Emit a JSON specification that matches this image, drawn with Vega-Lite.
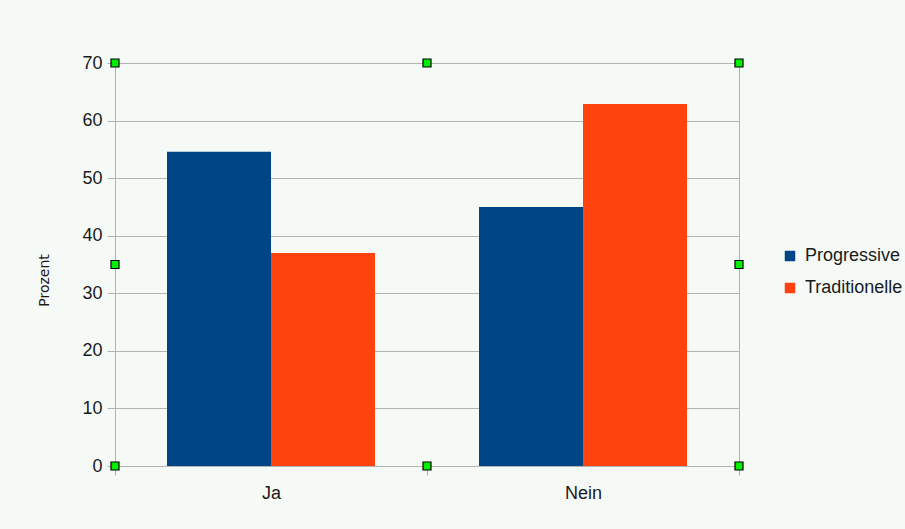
{
  "$schema": "https://vega.github.io/schema/vega-lite/v6.json",
  "width": 624,
  "height": 403,
  "autosize": "none",
  "padding": {"left": 115, "top": 63, "right": 166, "bottom": 63},
  "background": "#f5faf7",
  "config": {
    "view": {"stroke": "#b3b3b3", "strokeWidth": 1},
    "font": "Liberation Sans",
    "axis": {"labelFont": "Liberation Sans", "titleFont": "DejaVu Sans"},
    "legend": {"labelFont": "Liberation Sans"}
  },
  "datasets": {
    "bars": [
      {"Antwort": "Ja", "Gruppe": "Progressive", "Prozent": 54.6},
      {"Antwort": "Ja", "Gruppe": "Traditionelle", "Prozent": 37.0},
      {"Antwort": "Nein", "Gruppe": "Progressive", "Prozent": 45.0},
      {"Antwort": "Nein", "Gruppe": "Traditionelle", "Prozent": 62.9}
    ],
    "handles": [
      {"hx": 0, "hy": 70}, {"hx": 0.5, "hy": 70}, {"hx": 1, "hy": 70},
      {"hx": 0, "hy": 35}, {"hx": 1, "hy": 35},
      {"hx": 0, "hy": 0}, {"hx": 0.5, "hy": 0}, {"hx": 1, "hy": 0}
    ]
  },
  "layer": [
    {
      "data": {"name": "bars"},
      "mark": {"type": "bar"},
      "encoding": {
        "x": {
          "field": "Antwort",
          "type": "nominal",
          "sort": ["Ja", "Nein"],
          "scale": {"paddingInner": 0, "paddingOuter": 0},
          "axis": {
            "title": null,
            "labelAngle": 0,
            "tickBand": "extent",
            "tickSize": 9,
            "tickColor": "#b3b3b3",
            "domainColor": "#b3b3b3",
            "labelFontSize": 18,
            "labelColor": "#1a1a1a",
            "labelPadding": 9,
            "grid": false
          }
        },
        "xOffset": {
          "field": "Gruppe",
          "type": "nominal",
          "scale": {"paddingInner": 0, "paddingOuter": 0.5}
        },
        "y": {
          "field": "Prozent",
          "type": "quantitative",
          "scale": {"domain": [0, 70], "nice": false},
          "title": "Prozent",
          "axis": {
            "values": [0, 10, 20, 30, 40, 50, 60, 70],
            "tickSize": 8,
            "tickColor": "#b3b3b3",
            "domainColor": "#b3b3b3",
            "gridColor": "#b3b3b3",
            "gridWidth": 1,
            "labelFontSize": 18,
            "labelColor": "#1a1a1a",
            "labelPadding": 5,
            "titleFontSize": 14,
            "titleFontWeight": "normal",
            "titleColor": "#1a1a1a",
            "titleX": -71,
            "titleY": 217,
            "titleAngle": -90,
            "titleAlign": "center",
            "titleBaseline": "middle"
          }
        },
        "color": {
          "field": "Gruppe",
          "type": "nominal",
          "scale": {"domain": ["Progressive", "Traditionelle"], "range": ["#004586", "#ff420e"]},
          "legend": {
            "title": null,
            "orient": "none",
            "legendX": 666,
            "legendY": 184,
            "symbolType": "square",
            "symbolSize": 110,
            "symbolStrokeWidth": 0,
            "labelFontSize": 18,
            "labelColor": "#1a1a1a",
            "labelOffset": 6,
            "rowPadding": 14
          }
        }
      }
    },
    {
      "data": {"name": "handles"},
      "mark": {"type": "point", "shape": "square", "filled": true, "fill": "#00ee00", "stroke": "#000000", "strokeWidth": 1.2, "size": 64, "opacity": 1},
      "encoding": {
        "x": {"field": "hx", "type": "quantitative", "scale": {"domain": [0, 1], "nice": false}, "axis": null},
        "y": {"field": "hy", "type": "quantitative", "title": "Prozent"}
      }
    }
  ],
  "resolve": {"scale": {"x": "independent"}}
}
